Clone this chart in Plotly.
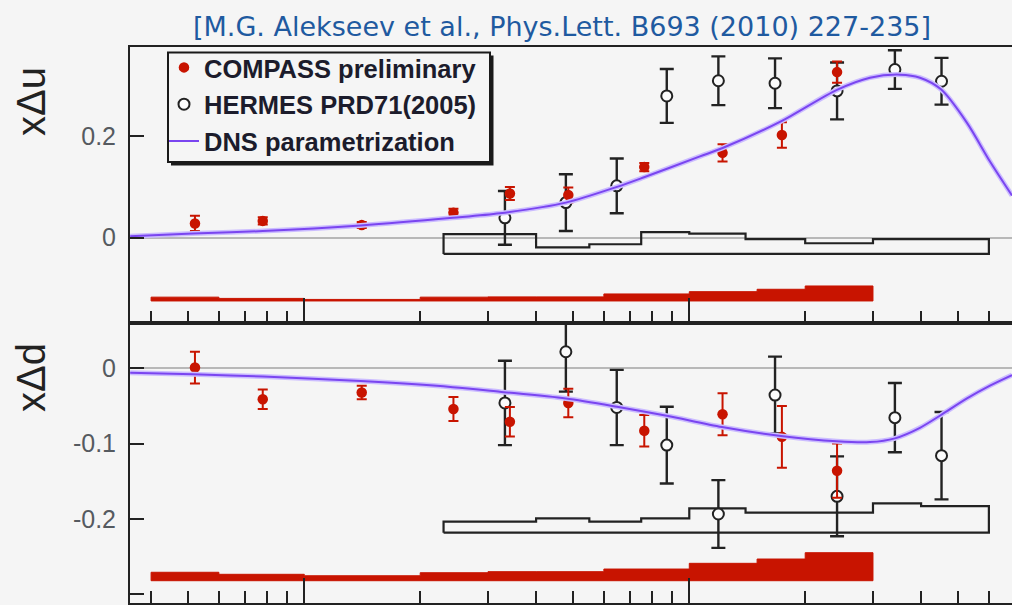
import plotly.graph_objects as go

# ---------------- data ----------------
compass_x = [0.0052, 0.0078, 0.0141, 0.0244, 0.0342, 0.0485, 0.0764, 0.122, 0.174, 0.242]
hermes_x = [0.0332, 0.0478, 0.0648, 0.0874, 0.119, 0.167, 0.242, 0.342, 0.452]

u_compass_y = [0.028, 0.033, 0.025, 0.049, 0.087, 0.084, 0.139, 0.167, 0.202, 0.326]
u_compass_err = [0.015, 0.007, 0.006, 0.008, 0.013, 0.015, 0.008, 0.017, 0.025, 0.021]
u_hermes_y = [0.039, 0.069, 0.102, 0.279, 0.309, 0.304, 0.289, 0.331, 0.308]
u_hermes_err = [0.053, 0.056, 0.054, 0.053, 0.048, 0.049, 0.056, 0.038, 0.046]

d_compass_y = [0.001, -0.041, -0.032, -0.054, -0.071, -0.046, -0.083, -0.061, -0.091, -0.136]
d_compass_err = [0.021, 0.013, 0.009, 0.016, 0.0195, 0.019, 0.021, 0.028, 0.041, 0.036]
d_hermes_y = [-0.046, 0.022, -0.052, -0.102, -0.1935, -0.0355, -0.170, -0.0655, -0.116]
d_hermes_err = [0.056, 0.053, 0.050, 0.051, 0.045, 0.051, 0.053, 0.046, 0.058]

dns_u_x = [0.00353, 0.00514, 0.00781, 0.0140, 0.0243, 0.0322, 0.0478, 0.0649, 0.0763, 0.1066,
           0.1216, 0.173, 0.2418, 0.2946, 0.3526, 0.3973, 0.4506, 0.5264, 0.604, 0.689]
dns_u_y = [0.003, 0.008, 0.013, 0.024, 0.039, 0.048, 0.069, 0.100, 0.119, 0.160,
           0.176, 0.229, 0.291, 0.315, 0.321, 0.315, 0.292, 0.226, 0.150, 0.083]
dns_d_x = [0.00353, 0.00514, 0.00781, 0.0140, 0.0243, 0.0322, 0.0478, 0.0649, 0.0874, 0.1216,
           0.173, 0.2418, 0.2946, 0.342, 0.3973, 0.4506, 0.5264, 0.604, 0.689]
dns_d_y = [-0.006, -0.008, -0.011, -0.017, -0.025, -0.031, -0.040, -0.051, -0.063, -0.078,
           -0.090, -0.097, -0.098, -0.093, -0.079, -0.062, -0.040, -0.023, -0.009]

compass_edges = [0.004, 0.006, 0.01, 0.02, 0.03, 0.04, 0.06, 0.1, 0.15, 0.2, 0.3]
u_compass_sys = [0.0075, 0.005, 0.003, 0.0075, 0.008, 0.008, 0.0138, 0.0183, 0.023, 0.0295]
u_compass_sys_base = -0.1246
d_compass_sys = [0.0112, 0.0085, 0.0066, 0.0106, 0.012, 0.012, 0.0155, 0.0231, 0.0288, 0.0372]
d_compass_sys_base = -0.2821

hermes_edges = [0.023, 0.04, 0.055, 0.075, 0.1, 0.14, 0.2, 0.3, 0.4, 0.6]
u_hermes_sys = [0.039, 0.013, 0.019, 0.043, 0.040, 0.029, 0.021, 0.029, 0.029]
u_hermes_sys_base = -0.032
d_hermes_sys = [0.0146, 0.0191, 0.0146, 0.0191, 0.0323, 0.0266, 0.0266, 0.039, 0.0354]
d_hermes_sys_base = -0.2183

x_major_ticks = [0.01, 0.1]
x_minor_ticks = [0.004, 0.005, 0.006, 0.007, 0.008, 0.009,
                 0.02, 0.03, 0.04, 0.05, 0.06, 0.07, 0.08, 0.09,
                 0.2, 0.3, 0.4, 0.5, 0.6]
u_ticks = [0, 0.2]
u_ticktext = ["0", "0.2"]
d_ticks = [0, -0.1, -0.2, -0.3]
d_ticktext = ["0", "-0.1", "-0.2", "-0.3"]

title_text = "[M.G. Alekseev et al., Phys.Lett. B693 (2010) 227-235]"
names = ["COMPASS preliminary", "HERMES PRD71(2005)", "DNS parametrization"]

# ---------------- layout constants ----------------
W, H = 1012, 605
L, R, T, B = 130, 0, 47, 2
PW, PH = W - L - R, H - T - B
split = (H - B - 323) / PH

RED = "#c81400"
BLK = "#222222"
PURPLE = "#7a45f0"
BG = "#f5f5f5"


def px_x(px):
    return (px - L) / PW


def px_y(py):
    return (H - B - py) / PH


def step_polygon(edges, heights, base):
    xs, ys = [edges[0]], [base]
    for i, h in enumerate(heights):
        xs += [edges[i], edges[i + 1]]
        ys += [base + h, base + h]
    xs += [edges[-1], edges[0]]
    ys += [base, base]
    return xs, ys


def legname(s):
    return "<span style='font-size:25.5px'><b>%s</b></span>" % s


fig = go.Figure()

panels = [
    ("x", "y", u_compass_y, u_compass_err, u_hermes_y, u_hermes_err, dns_u_x, dns_u_y,
     u_compass_sys, u_compass_sys_base, u_hermes_sys, u_hermes_sys_base, True),
    ("x2", "y2", d_compass_y, d_compass_err, d_hermes_y, d_hermes_err, dns_d_x, dns_d_y,
     d_compass_sys, d_compass_sys_base, d_hermes_sys, d_hermes_sys_base, False),
]

for (xa, ya, cy, ce, hy, he, dx, dy, csys, cbase, hsys, hbase, leg) in panels:
    sx, sy = step_polygon(compass_edges, csys, cbase)
    fig.add_trace(go.Scatter(x=sx, y=sy, xaxis=xa, yaxis=ya, mode="lines", fill="toself",
                             fillcolor=RED, line=dict(color=RED, width=1), showlegend=False,
                             hoverinfo="skip"))
    hx, hyy = step_polygon(hermes_edges, hsys, hbase)
    fig.add_trace(go.Scatter(x=hx, y=hyy, xaxis=xa, yaxis=ya, mode="lines",
                             line=dict(color=BLK, width=2.2), showlegend=False, hoverinfo="skip"))
    fig.add_trace(go.Scatter(x=hermes_x, y=hy, xaxis=xa, yaxis=ya, mode="markers",
                             name=legname(names[1]), legendrank=2, showlegend=leg,
                             marker=dict(symbol="circle", size=11, color="#fbfbfb",
                                         line=dict(color=BLK, width=2)),
                             error_y=dict(type="data", array=he, color=BLK, thickness=2.4, width=7)))
    fig.add_trace(go.Scatter(x=compass_x, y=cy, xaxis=xa, yaxis=ya, mode="markers",
                             name=legname(names[0]), legendrank=1, showlegend=leg,
                             marker=dict(symbol="circle", size=10.5, color=RED),
                             error_y=dict(type="data", array=ce, color=RED, thickness=2, width=5)))
    fig.add_trace(go.Scatter(x=dx, y=dy, xaxis=xa, yaxis=ya, mode="lines",
                             line=dict(color="#cbbcff", width=5, shape="spline", smoothing=0.8),
                             showlegend=False, hoverinfo="skip"))
    fig.add_trace(go.Scatter(x=dx, y=dy, xaxis=xa, yaxis=ya, mode="lines",
                             name=legname(names[2]), legendrank=3, showlegend=leg,
                             line=dict(color=PURPLE, width=2, shape="spline", smoothing=0.8)))

xcommon = dict(type="log", range=[-2.4527, -0.1618], showline=True, linecolor=BLK, linewidth=2,
               mirror=True, ticks="inside", ticklen=25, tickwidth=2, tickcolor=BLK,
               tickvals=x_major_ticks, showticklabels=False, showgrid=False, zeroline=False,
               minor=dict(tickvals=x_minor_ticks, ticks="inside", ticklen=12, tickwidth=2,
                          tickcolor=BLK, showgrid=False))
ycommon = dict(showline=True, linecolor=BLK, linewidth=2, ticks="inside", ticklen=14,
               tickwidth=2, tickcolor=BLK, showgrid=False, zeroline=True,
               zerolinecolor="#b8b8b8", zerolinewidth=2, ticklabelstandoff=7,
               tickfont=dict(family="Liberation Sans", size=25, color="#555a60"))

fig.update_layout(
    width=W, height=H, margin=dict(l=L, r=R, t=T, b=B),
    paper_bgcolor=BG, plot_bgcolor=BG,
    xaxis=dict(domain=[0, 1], anchor="y", **xcommon),
    xaxis2=dict(domain=[0, 1], anchor="y2", matches="x", **xcommon),
    yaxis=dict(domain=[split, 1], anchor="x", range=[-0.168, 0.3754],
               tickvals=u_ticks, ticktext=u_ticktext, **ycommon),
    yaxis2=dict(domain=[0, split], anchor="x2", range=[-0.3117, 0.0602],
                tickvals=d_ticks, ticktext=d_ticktext, **ycommon),
    legend=dict(x=px_x(164), y=px_y(44), xanchor="left", yanchor="top",
                bgcolor="rgba(0,0,0,0)", borderwidth=0,
                font=dict(family="Liberation Sans", size=26, color="#1c1c2c"),
                itemwidth=30),
    showlegend=True,
    annotations=[
        dict(text=title_text, xref="paper", yref="paper", x=px_x(562), y=px_y(26),
             xanchor="center", yanchor="middle", showarrow=False,
             font=dict(family="DejaVu Sans", size=27, color="#1f5aa0")),
        dict(text="xΔu", xref="paper", yref="paper", x=px_x(31), y=px_y(102),
             xanchor="center", yanchor="middle", textangle=-90, showarrow=False,
             font=dict(family="Liberation Sans", size=40, color="#222222")),
        dict(text="xΔd", xref="paper", yref="paper", x=px_x(31), y=px_y(378),
             xanchor="center", yanchor="middle", textangle=-90, showarrow=False,
             font=dict(family="Liberation Sans", size=40, color="#222222")),
    ],
    shapes=[
        dict(type="rect", xref="paper", yref="paper", x0=px_x(171), x1=px_x(493.5),
             y0=px_y(165.5), y1=px_y(55.5), fillcolor="#1a1a1a", line=dict(width=0),
             layer="below"),
        dict(type="rect", xref="paper", yref="paper", x0=px_x(168), x1=px_x(490),
             y0=px_y(162), y1=px_y(52.5), fillcolor=BG, line=dict(color="#1a1a1a", width=2),
             layer="below"),
    ],
)

fig.write_html("out.html")
